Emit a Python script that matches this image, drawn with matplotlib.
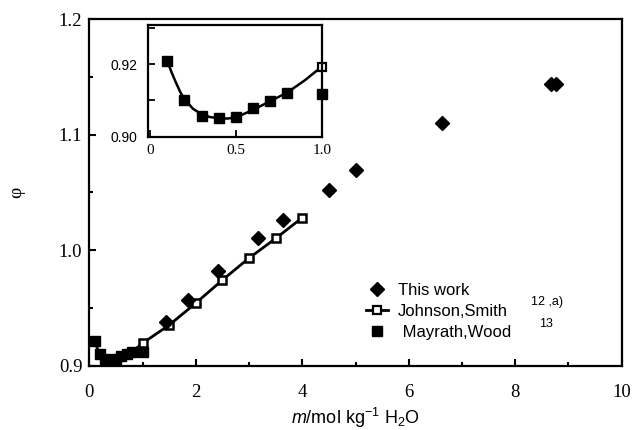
import matplotlib
matplotlib.use("Agg")
import matplotlib.pyplot as plt
from matplotlib.ticker import MultipleLocator

# data
this_work_m = [1.45, 1.86, 2.42, 3.16, 3.64, 4.50, 5.01, 6.62, 8.68, 8.76]
this_work_phi = [0.938, 0.957, 0.982, 1.010, 1.026, 1.052, 1.069, 1.110, 1.144, 1.144]

johnson_m = [1.0, 1.5, 2.0, 2.5, 3.0, 3.5, 4.0]
johnson_phi = [0.9193, 0.935, 0.954, 0.974, 0.993, 1.010, 1.028]

mayrath_m = [0.1, 0.2, 0.3, 0.4, 0.5, 0.6, 0.7, 0.8, 1.0]
mayrath_phi = [0.9209, 0.9101, 0.9058, 0.9051, 0.9053, 0.9078, 0.9098, 0.9121, 0.9117]

# smoothed curve drawn through the low-molality points
fit_m = [0.1, 0.125, 0.15, 0.175, 0.2, 0.25, 0.3, 0.35, 0.4, 0.45, 0.5,
         0.6, 0.7, 0.8, 0.9, 1.0]
fit_phi = [0.9209, 0.9178, 0.9150, 0.9124, 0.9104, 0.9077, 0.9062, 0.9054,
           0.9051, 0.9050, 0.9053, 0.9074, 0.9098, 0.9122, 0.9155, 0.9193]

plt.rcParams['mathtext.fontset'] = 'custom'
plt.rcParams['mathtext.rm'] = 'Liberation Sans'
plt.rcParams['mathtext.it'] = 'Liberation Sans:italic'

serif = 'Liberation Serif'
sans = 'Liberation Sans'

fig = plt.figure(figsize=(6.32, 4.30), dpi=100)

# main axes
ax = fig.add_axes([0.1413, 0.15, 0.8424, 0.8058])
ax.plot(fit_m, fit_phi, '-', color='black', lw=2)
ax.plot(johnson_m, johnson_phi, '-', color='black', lw=2)
ax.plot(mayrath_m, mayrath_phi, 's', color='black', ms=7, ls='none')
ax.plot(johnson_m, johnson_phi, 's', mfc='white', mec='black', mew=1.8, ms=5.8, ls='none')
ax.plot(this_work_m, this_work_phi, 'D', color='black', ms=7.5, ls='none')

ax.set_xlim(0, 10)
ax.set_ylim(0.9, 1.2)
ax.xaxis.set_major_locator(MultipleLocator(2))
ax.xaxis.set_minor_locator(MultipleLocator(1))
ax.yaxis.set_major_locator(MultipleLocator(0.1))
ax.yaxis.set_minor_locator(MultipleLocator(0.05))
ax.tick_params(which='both', direction='in', width=1.5, top=False, right=False)
ax.tick_params(which='major', length=5, labelsize=13.5)
ax.tick_params(axis='x', pad=13)
ax.tick_params(axis='y', pad=5)
ax.tick_params(which='minor', length=3)
for lab in ax.get_xticklabels() + ax.get_yticklabels():
    lab.set_fontfamily(serif)
for s in ax.spines.values():
    s.set_linewidth(1.6)

ax.set_xlabel(r'$m$/mol kg$^{-1}$ H$_2$O', fontsize=13, family=sans, labelpad=4)
ax.set_ylabel('φ', fontsize=14, family=serif, labelpad=24)

# legend
h1, = ax.plot([], [], 'D', color='black', ms=7)
h2, = ax.plot([], [], 's-', color='black', mfc='white', mec='black', mew=1.6, ms=5.5, lw=2)
h3, = ax.plot([], [], 's', color='black', ms=7)
ax.legend([h1, h2, h3], ['This work', 'Johnson,Smith', ' Mayrath,Wood'],
          loc='lower left', bbox_to_anchor=(0.505, 0.05), frameon=False,
          prop={'family': sans, 'size': 12}, handlelength=1.3, handletextpad=0.6,
          labelspacing=0.35, borderpad=0)
ax.text(0.83, 0.175, '12 ,a)', transform=ax.transAxes, fontsize=9, family=sans)
ax.text(0.845, 0.11, '13', transform=ax.transAxes, fontsize=9, family=sans)

# inset
axi = fig.add_axes([0.2347, 0.6821, 0.2744, 0.2598])
axi.plot(fit_m, fit_phi, '-', color='black', lw=1.8)
axi.plot(mayrath_m, mayrath_phi, 's', color='black', ms=6.5, ls='none', clip_on=False)
axi.plot(johnson_m[:1], johnson_phi[:1], 's', mfc='white', mec='black', mew=1.6,
         ms=6, ls='none', clip_on=False)
axi.set_xlim(-0.01, 1.0)
axi.set_ylim(0.90, 0.9308)
axi.yaxis.set_major_locator(MultipleLocator(0.02))
axi.yaxis.set_minor_locator(MultipleLocator(0.01))
axi.set_xticks([0, 0.5, 1.0], ['0', '0.5', '1.0'])
axi.tick_params(which='both', direction='in', width=1.3, top=False, right=False)
axi.tick_params(which='major', length=5)
axi.tick_params(which='minor', length=5)
axi.tick_params(axis='x', labelsize=11, pad=5)
axi.tick_params(axis='y', labelsize=10, pad=8)
for lab in axi.get_xticklabels():
    lab.set_fontfamily(serif)
for lab in axi.get_yticklabels():
    lab.set_fontfamily(sans)
for s in axi.spines.values():
    s.set_linewidth(1.6)

fig.savefig('out.png', dpi=100)
